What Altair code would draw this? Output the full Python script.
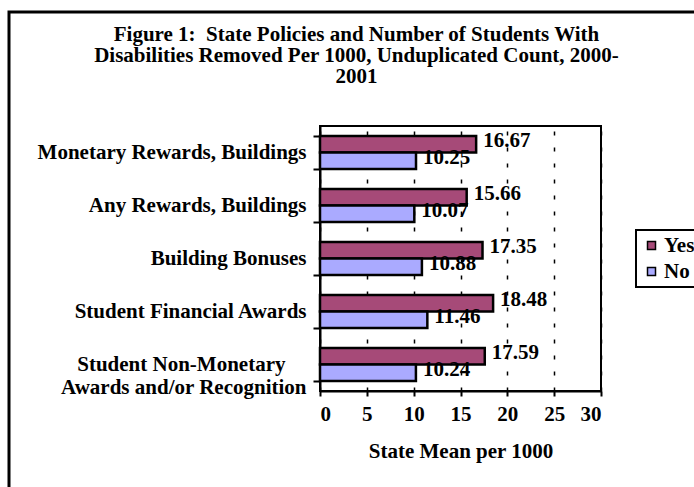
import altair as alt
import pandas as pd

categories = [
    "Monetary Rewards, Buildings",
    "Any Rewards, Buildings",
    "Building Bonuses",
    "Student Financial Awards",
    "Student Non-Monetary|Awards and/or Recognition",
]
series = ["Yes", "No"]
yes_vals = [16.67, 15.66, 17.35, 18.48, 17.59]
no_vals = [10.25, 10.07, 10.88, 11.46, 10.24]
x_ticks = [0, 5, 10, 15, 20, 25, 30]
colors = ["#A64A78", "#AAAAFF"]
title_lines = [
    "Figure 1:\u00a0 State Policies and Number of Students With",
    "Disabilities Removed Per 1000, Unduplicated Count, 2000-",
    "2001",
]

rows = []
for c, y, n in zip(categories, yes_vals, no_vals):
    rows.append({"cat": c, "series": "Yes", "value": y, "label": f"{y:.2f}"})
    rows.append({"cat": c, "series": "No", "value": n, "label": f"{n:.2f}"})
df = pd.DataFrame(rows)

FONT = "Liberation Serif"
FS = 21
PAD = "\u00a0" * 4 + "\u200b"

label_expr = (
    "indexof(datum.label, '|') >= 0 ? "
    f"[split(datum.label, '|')[0] + '{PAD}', split(datum.label, '|')[1]] : datum.label"
)

y_enc = alt.Y(
    "cat:N",
    sort=categories,
    title=None,
    scale=alt.Scale(paddingInner=0.377, paddingOuter=0.19),
    axis=alt.Axis(
        labelExpr=label_expr,
        labelFont=FONT,
        labelFontSize=FS,
        labelFontWeight="bold",
        labelColor="black",
        labelLineHeight=23,
        labelPadding=7,
        labelLimit=400,
        tickBand="extent",
        tickSize=7,
        tickColor="black",
        tickWidth=2,
        domainColor="black",
        domainWidth=2,
    ),
)
x_enc = alt.X(
    "value:Q",
    title="State Mean per 1000",
    scale=alt.Scale(domain=[0, 30], nice=False),
    axis=alt.Axis(
        values=x_ticks,
        labelFont=FONT,
        labelFontSize=FS,
        labelFontWeight="bold",
        labelColor="black",
        labelPadding=7,
        tickSize=5,
        tickColor="black",
        tickWidth=2,
        domainColor="black",
        domainWidth=2,
        grid=True,
        gridColor="black",
        gridDash=[4, 12],
        gridWidth=1.5,
        titleFont=FONT,
        titleFontSize=FS,
        titleFontWeight="bold",
        titleColor="black",
        titlePadding=16,
    ),
)
yoff = alt.YOffset("series:N", sort=series, scale=alt.Scale(paddingInner=0, paddingOuter=0))

frame = alt.Chart(pd.DataFrame({"a": [0]})).mark_rect(
    fill="transparent", stroke="black", strokeWidth=3
).encode(
    x=alt.value(-311), x2=alt.value(420), y=alt.value(-114), y2=alt.value(420)
)

bars = alt.Chart(df).mark_bar(stroke="black", strokeWidth=2.5).encode(
    y=y_enc,
    x=x_enc,
    yOffset=yoff,
    color=alt.Color(
        "series:N",
        sort=series,
        scale=alt.Scale(domain=series, range=colors),
        legend=alt.Legend(
            title=None,
            orient="none",
            legendX=316,
            legendY=104,
            labelFont=FONT,
            labelFontSize=FS,
            labelFontWeight="bold",
            labelColor="black",
            symbolType="square",
            symbolSize=64,
            symbolStrokeColor="black",
            symbolStrokeWidth=1.5,
            symbolOpacity=1,
            strokeColor="black",
            padding=5,
            rowPadding=4,
            labelOffset=2,
            fillColor="white",
        ),
    ),
)

texts = alt.Chart(df).mark_text(
    align="left", baseline="middle", dx=7, dy=-3,
    font=FONT, fontSize=FS, fontWeight="bold", color="black",
).encode(
    y=alt.Y("cat:N", sort=categories),
    x=alt.X("value:Q"),
    yOffset=alt.YOffset("series:N", sort=series),
    text="label:N",
)

chart = alt.layer(frame, bars, texts).properties(
    width=281,
    height=265,
    padding={"left": 320, "top": 126, "right": 93, "bottom": 96},
    autosize=alt.AutoSizeParams(type="none"),
    background="white",
    title=alt.TitleParams(
        text=title_lines,
        font=FONT,
        fontSize=FS,
        fontWeight="bold",
        color="black",
        anchor="middle",
        frame="group",
        dx=-104,
        lineHeight=21,
        offset=-76,
    ),
).configure_view(stroke="black", strokeWidth=2).configure_legend(strokeWidth=2)

chart.save("out.html", embed_options={"renderer": "svg", "actions": False})
